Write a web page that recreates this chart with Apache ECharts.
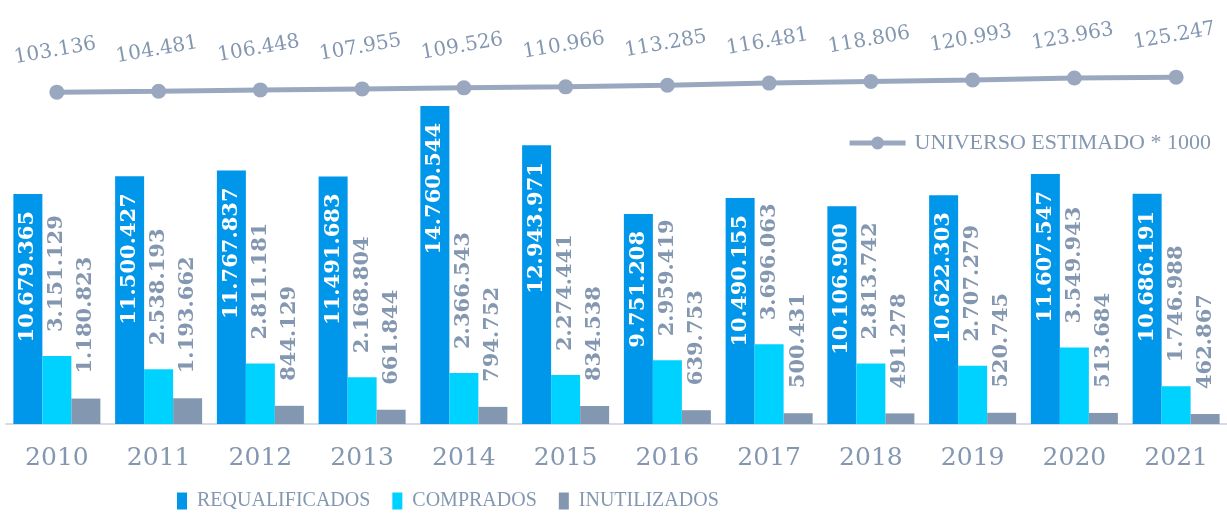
<!DOCTYPE html>
<html>
<head>
<meta charset="utf-8">
<script src="https://cdn.jsdelivr.net/npm/echarts@6/dist/echarts.min.js"></script>
<style>
  html, body { margin: 0; padding: 0; background: #fff; }
  #main { width: 1227px; height: 513px; }
</style>
</head>
<body>
<div id="main"></div>
<script>
const years = ['2010', '2011', '2012', '2013', '2014', '2015', '2016', '2017', '2018', '2019', '2020', '2021']
const requalificados = [10679365, 11500427, 11767837, 11491683, 14760544, 12943971, 9751208, 10490155, 10106900, 10622303, 11607547, 10686191]
const comprados = [3151129, 2538193, 2811181, 2168804, 2366543, 2274441, 2959419, 3696063, 2813742, 2707279, 3549943, 1746988]
const inutilizados = [1180823, 1193662, 844129, 661844, 794752, 834538, 639753, 500431, 491278, 520745, 513684, 462867]
const universo = [103136, 104481, 106448, 107955, 109526, 110966, 113285, 116481, 118806, 120993, 123963, 125247]

const gray = '#8497B0'
// pontos de milhar com "."
const fmt = n => String(n).replace(/\B(?=(\d{3})+(?!\d))/g, '.')

const barLabel = {
  show: true,
  rotate: 90,
  fontFamily: 'DejaVu Serif',
  fontWeight: 'bold',
  fontSize: 21,
  verticalAlign: 'middle',
  formatter: p => fmt(p.value)
}

const chart = echarts.init(document.getElementById('main'))
chart.setOption({
  backgroundColor: '#fff',
  animation: false,
  grid: { left: 6, right: 0, top: 0, bottom: 89 },
  legend: [
    {
      data: ['UNIVERSO ESTIMADO * 1000'],
      right: 11,
      top: 127,
      itemWidth: 56,
      itemHeight: 16,
      lineStyle: { width: 5 },
      textStyle: { color: gray, fontFamily: 'Liberation Serif', fontSize: 22, padding: [0, 0, 0, 4] }
    },
    {
      data: ['REQUALIFICADOS', 'COMPRADOS', 'INUTILIZADOS'],
      left: 172,
      top: 486,
      icon: 'rect',
      itemWidth: 10,
      itemHeight: 17,
      itemGap: 22,
      textStyle: { color: gray, fontFamily: 'Liberation Serif', fontSize: 20, padding: [0, 0, 0, 5] }
    }
  ],
  xAxis: {
    type: 'category',
    data: years,
    axisTick: { show: false },
    axisLine: { lineStyle: { color: '#D6DCE5', width: 2 } },
    axisLabel: { color: gray, fontFamily: 'DejaVu Serif', fontSize: 25, margin: 22 }
  },
  yAxis: [
    { type: 'value', min: 0, max: 19680000, show: false, splitLine: { show: false } },
    { type: 'value', min: -386000, max: 239000, show: false, splitLine: { show: false } }
  ],
  series: [
    {
      name: 'REQUALIFICADOS',
      type: 'bar',
      data: requalificados,
      barGap: '0%',
      barCategoryGap: '14.5%',
      itemStyle: { color: '#0096EA' },
      label: { ...barLabel, position: 'insideTop', align: 'right', distance: 17, color: '#fff' }
    },
    {
      name: 'COMPRADOS',
      type: 'bar',
      data: comprados,
      itemStyle: { color: '#00D2FF' },
      label: { ...barLabel, position: 'top', align: 'left', distance: 24, color: gray }
    },
    {
      name: 'INUTILIZADOS',
      type: 'bar',
      data: inutilizados,
      itemStyle: { color: gray },
      label: { ...barLabel, position: 'top', align: 'left', distance: 25, color: gray }
    },
    {
      name: 'UNIVERSO ESTIMADO * 1000',
      type: 'line',
      yAxisIndex: 1,
      data: universo,
      symbol: 'circle',
      symbolSize: 15,
      lineStyle: { color: '#9AA8BF', width: 5 },
      itemStyle: { color: '#9AA8BF' },
      label: {
        show: true,
        position: 'top',
        distance: 24,
        rotate: 10,
        color: gray,
        fontFamily: 'DejaVu Serif',
        fontSize: 20,
        formatter: p => fmt(p.value)
      }
    }
  ]
})
</script>
</body>
</html>
